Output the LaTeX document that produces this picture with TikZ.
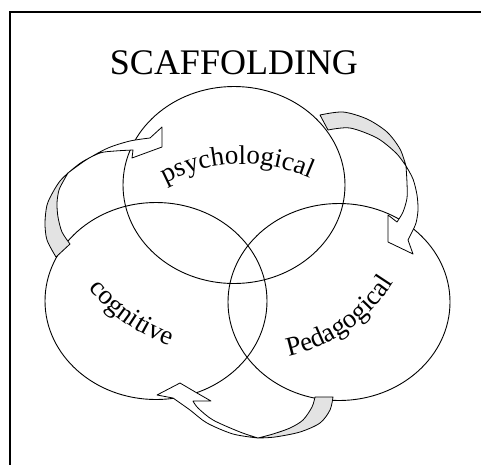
\documentclass[tikz,border=0pt]{standalone}
\usepackage{fontspec}
\setmainfont{Liberation Serif}
\usetikzlibrary{shapes.geometric,decorations.text}
\newcommand{\lblfont}{\fontsize{27}{32}\selectfont}

\begin{document}
\begin{tikzpicture}[
    x=1pt, y=1pt,
    zone/.style={draw, ellipse, line width=0.9pt, minimum width=222pt, minimum height=197pt, inner sep=0pt},
    back/.style={draw, fill=gray!22, line width=0.8pt, line join=round},
    front/.style={draw, fill=white, line width=0.8pt, line join=round},
    curvetext/.style={decorate, decoration={text along path, text align=center, text={|\lblfont|#1}}}
]
\clip (0,0) rectangle (481,-464);
\draw[line width=1.4pt] (10,-12) rectangle (495,-480);

% Title
\node[font=\fontsize{36}{42}\selectfont, anchor=base] (title) at (234,-74) {SCAFFOLDING};

% Zones
\node[zone] (psy) at (234,-185) {};
\node[zone] (cog) at (156,-301) {};
\node[zone] (ped) at (339,-302) {};

% Curved arrows: cognitive -> psychological
\filldraw[back] plot[smooth] coordinates {(56,-257) (47,-240) (45,-223) (47,-205) (53,-192) (60,-181) (68,-173)}
    -- plot[smooth] coordinates {(68,-173) (64,-180) (59,-190) (57,-203) (58,-217) (62,-232) (70,-244)} -- cycle;
\filldraw[front] plot[smooth] coordinates {(68,-173) (86,-160) (108,-148) (130,-141) (150,-138)}
    -- (162,-127) -- (162,-147) -- (132,-158) -- (133,-150)
    -- plot[smooth] coordinates {(133,-150) (115,-151) (100,-153) (82,-162) (68,-173)} -- cycle;

% psychological -> Pedagogical
\filldraw[back] plot[smooth] coordinates {(320,-115) (343,-112) (367,-119) (387,-132) (400,-149) (406,-166)}
    -- plot[smooth] coordinates {(406,-166) (396,-153) (377,-138) (350,-128) (328,-130)} -- cycle;
\filldraw[front] plot[smooth] coordinates {(406,-166) (413,-179) (417,-195) (418,-210) (416,-223) (412,-232)}
    -- (408,-240) -- (413,-254) -- (388,-242) -- (388,-215) -- (397,-222)
    -- plot[smooth] coordinates {(397,-222) (403,-212) (407,-198) (407,-183) (406,-166)} -- cycle;

% Pedagogical -> cognitive
\filldraw[back] plot[smooth] coordinates {(333,-397) (330,-410) (320,-423) (300,-432) (275,-437) (258,-438)}
    -- plot[smooth] coordinates {(258,-438) (273,-434) (290,-428) (303,-420) (312,-407) (315,-397)} -- cycle;
\filldraw[front] plot[smooth] coordinates {(258,-438) (233,-434) (207,-423) (190,-410) (173,-398)}
    -- (157,-395) -- (180,-383) -- (197,-393) -- (211,-401) -- (193,-401)
    -- plot[smooth] coordinates {(193,-401) (198,-408) (213,-420) (240,-432) (258,-438)} -- cycle;

% Labels
\path[curvetext=psychological] (243,-330) ++(124:166pt) arc[start angle=124, end angle=60, radius=166pt];
\path[curvetext=cognitive] (234,-167) ++(215:190pt) arc[start angle=215, end angle=255, radius=190pt];
\path[curvetext=Pedagogical] (254,-195) ++(275:165pt) arc[start angle=275, end angle=335, radius=165pt];
\end{tikzpicture}
\end{document}
